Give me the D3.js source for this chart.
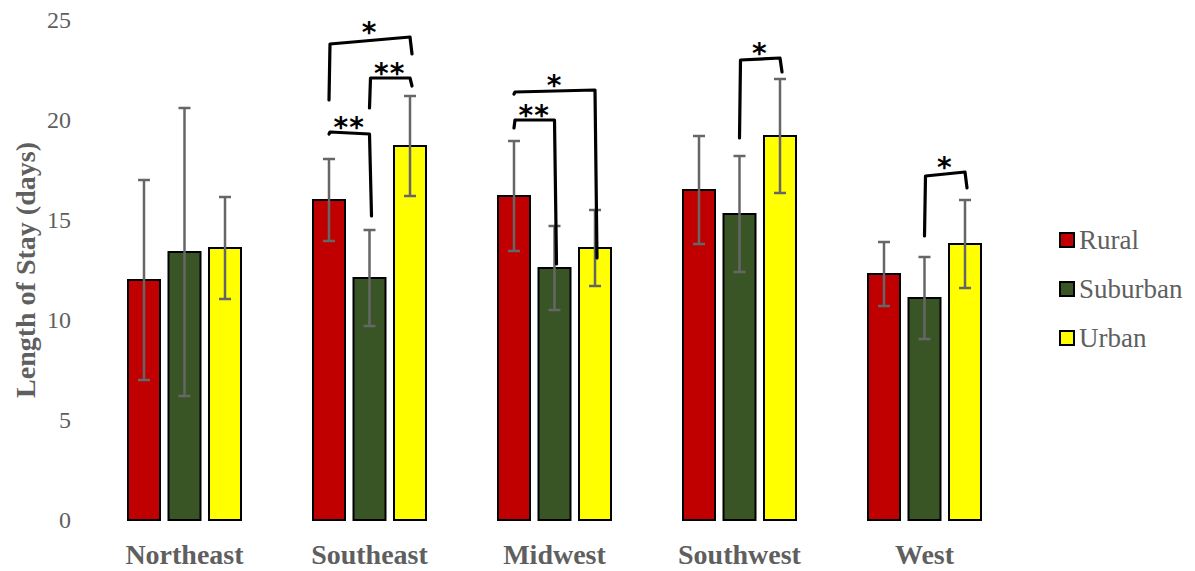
<!DOCTYPE html>
<html>
<head>
<meta charset="utf-8">
<script src="https://cdn.jsdelivr.net/npm/d3@7"></script>
<style>
  html, body { margin: 0; padding: 0; background: #fff; }
  svg { display: block; }
</style>
</head>
<body>
<svg id="chart" width="1195" height="571"></svg>
<script>
// Mean length of stay by region and setting, with standard deviations
const categories = ["Northeast", "Southeast", "Midwest", "Southwest", "West"];
const series = ["Rural", "Suburban", "Urban"];
const ruralMean    = [12.0, 16.0, 16.2, 16.5, 12.3];
const suburbanMean = [13.4, 12.1, 12.6, 15.3, 11.1];
const urbanMean    = [13.6, 18.7, 13.6, 19.2, 13.8];
const ruralSD      = [5.0, 2.05, 2.75, 2.7, 1.6];
const suburbanSD   = [7.2, 2.4, 2.1, 2.9, 2.05];
const urbanSD      = [2.55, 2.5, 1.9, 2.85, 2.2];
const yTicks = [0, 5, 10, 15, 20, 25];

// Significance comparisons: region, the two groups, label,
// and the bracket's left foot, top (left/right ends) and right foot in days.
const sigRegion = ["Southeast", "Southeast", "Southeast", "Midwest", "Midwest", "Southwest", "West"];
const sigFrom   = ["Rural", "Rural", "Suburban", "Rural", "Rural", "Suburban", "Suburban"];
const sigTo     = ["Urban", "Suburban", "Urban", "Urban", "Suburban", "Urban", "Urban"];
const sigLabel  = ["*", "**", "**", "*", "**", "*", "*"];
const sigLeftFoot  = [21.0, 19.3, 20.6, 21.3, 19.6, 19.1, 14.2];
const sigTopLeft   = [23.8, 19.4, 22.1, 21.4, 20.0, 23.0, 17.2];
const sigTopRight  = [24.15, 19.3, 22.1, 21.5, 20.0, 23.1, 17.4];
const sigRightFoot = [23.3, 15.2, 21.7, 13.1, 12.8, 22.4, 16.6];

const colors = { Rural: "#c00000", Suburban: "#3a5525", Urban: "#ffff00" };
const means = { Rural: ruralMean, Suburban: suburbanMean, Urban: urbanMean };
const sds = { Rural: ruralSD, Suburban: suburbanSD, Urban: urbanSD };

const rows = categories.map((c, i) => ({
  category: c,
  values: series.map(s => ({ series: s, mean: means[s][i], sd: sds[s][i] }))
}));

const svg = d3.select("#chart");
const textGray = "#5f5f5f";
const serif = "'Liberation Serif', 'Times New Roman', serif";

const y = d3.scaleLinear().domain([0, 25]).range([520, 20]);
const x0 = d3.scaleBand().domain(categories).range([92, 1017]);
const x1 = d3.scaleBand().domain(series).range([0, 113]).paddingInner(0.21);
const groupOffset = (x0.bandwidth() - 113) / 2;
const barX = (cat, s) => x0(cat) + groupOffset + x1(s);
const barMid = (cat, s) => barX(cat, s) + x1.bandwidth() / 2;

// Y axis: labels only, no domain line or tick marks
const yAxis = svg.append("g")
  .attr("transform", "translate(71,0)")
  .call(d3.axisLeft(y).tickValues(yTicks).tickSize(0).tickPadding(0));
yAxis.select(".domain").remove();
yAxis.selectAll("text")
  .attr("font-family", serif)
  .attr("font-size", 24)
  .attr("fill", textGray);

svg.append("text")
  .attr("transform", "translate(35,270) rotate(-90)")
  .attr("text-anchor", "middle")
  .attr("font-family", serif)
  .attr("font-weight", "bold")
  .attr("font-size", 28)
  .attr("fill", textGray)
  .text("Length of Stay (days)");

// Bars
const groups = svg.append("g").selectAll("g")
  .data(rows).join("g");

groups.selectAll("rect")
  .data(d => d.values.map(v => ({ ...v, category: d.category })))
  .join("rect")
  .attr("x", d => barX(d.category, d.series))
  .attr("y", d => y(d.mean))
  .attr("width", x1.bandwidth())
  .attr("height", d => y(0) - y(d.mean))
  .attr("fill", d => colors[d.series])
  .attr("stroke", "#000")
  .attr("stroke-width", 2);

// Error bars
const err = groups.selectAll("g.err")
  .data(d => d.values.map(v => ({ ...v, category: d.category })))
  .join("g").attr("class", "err")
  .attr("stroke", "#666")
  .attr("stroke-width", 2.5);
err.append("line")
  .attr("x1", d => barMid(d.category, d.series))
  .attr("x2", d => barMid(d.category, d.series))
  .attr("y1", d => y(d.mean - d.sd))
  .attr("y2", d => y(d.mean + d.sd));
err.selectAll("line.cap")
  .data(d => [d.mean - d.sd, d.mean + d.sd].map(v => ({ v, d })))
  .join("line").attr("class", "cap")
  .attr("x1", c => barMid(c.d.category, c.d.series) - 6)
  .attr("x2", c => barMid(c.d.category, c.d.series) + 6)
  .attr("y1", c => y(c.v))
  .attr("y2", c => y(c.v));

// Category labels
svg.append("g").selectAll("text")
  .data(categories).join("text")
  .attr("x", d => x0(d) + x0.bandwidth() / 2)
  .attr("y", 564)
  .attr("text-anchor", "middle")
  .attr("font-family", serif)
  .attr("font-weight", "bold")
  .attr("font-size", 28)
  .attr("fill", textGray)
  .text(d => d);

// Significance brackets
const sig = sigRegion.map((r, i) => ({
  region: r, from: sigFrom[i], to: sigTo[i], label: sigLabel[i],
  lf: sigLeftFoot[i], tl: sigTopLeft[i], tr: sigTopRight[i], rf: sigRightFoot[i]
}));
const sigG = svg.append("g");
sigG.selectAll("path")
  .data(sig).join("path")
  .attr("d", d => {
    const xl = barMid(d.region, d.from);
    const xr = barMid(d.region, d.to);
    return d3.line()([[xl, y(d.lf)], [xl + 1, y(d.tl)], [xr, y(d.tr)], [xr + 2, y(d.rf)]]);
  })
  .attr("fill", "none")
  .attr("stroke", "#000")
  .attr("stroke-width", 3.2)
  .attr("stroke-linejoin", "round")
  .attr("stroke-linecap", "round");
sigG.selectAll("text")
  .data(sig).join("text")
  .attr("x", d => (barMid(d.region, d.from) + barMid(d.region, d.to)) / 2)
  .attr("y", d => y(Math.max(d.tl, d.tr)) + 5)
  .attr("text-anchor", "middle")
  .attr("font-family", "'DejaVu Sans', sans-serif")
  .attr("font-weight", "bold")
  .attr("font-size", 28)
  .attr("letter-spacing", 1)
  .attr("fill", "#000")
  .text(d => d.label);

// Legend
const legend = svg.append("g").selectAll("g")
  .data(series).join("g")
  .attr("transform", (d, i) => `translate(1060,${233 + i * 49})`);
legend.append("rect")
  .attr("width", 14).attr("height", 14)
  .attr("fill", d => colors[d])
  .attr("stroke", "#000").attr("stroke-width", 2);
legend.append("text")
  .attr("x", 19).attr("y", 16)
  .attr("font-family", serif)
  .attr("font-size", 27)
  .attr("fill", textGray)
  .text(d => d);
</script>
</body>
</html>
